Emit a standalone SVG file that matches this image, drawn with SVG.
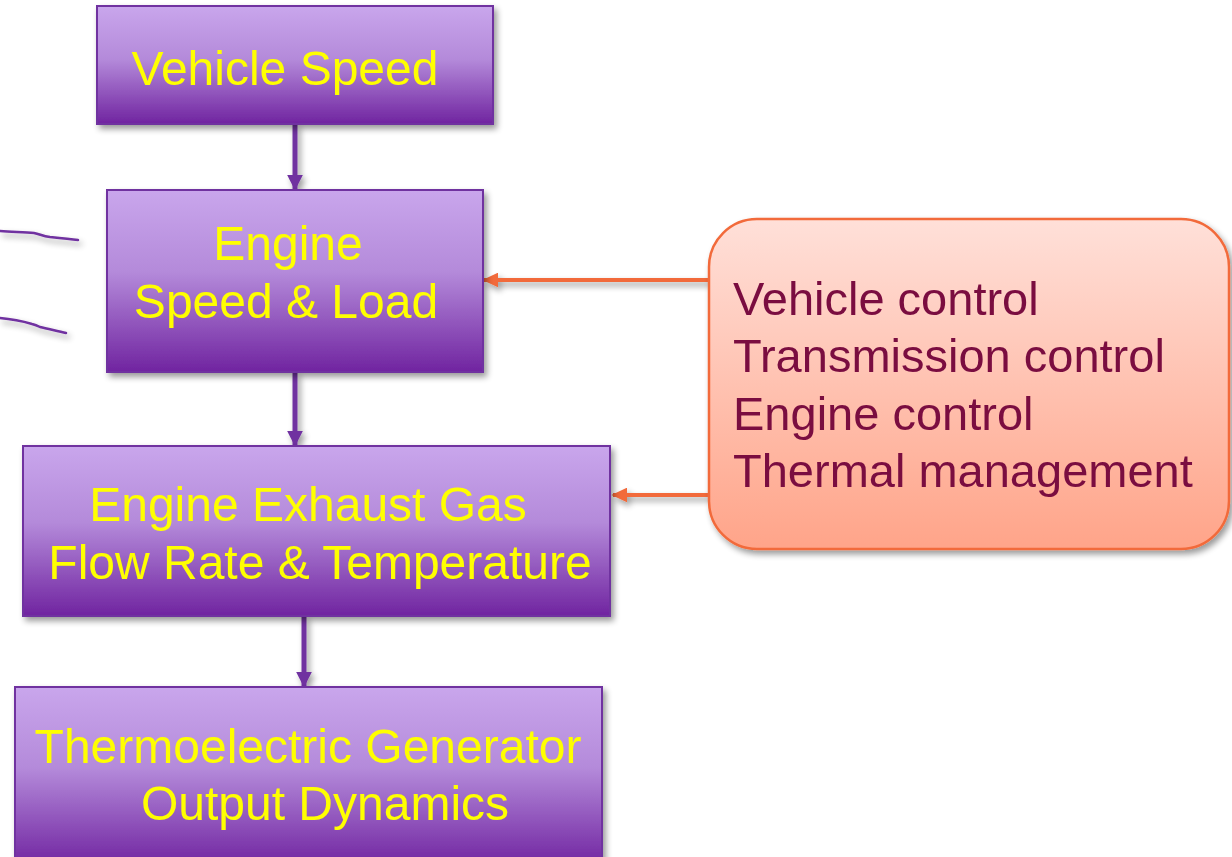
<svg xmlns="http://www.w3.org/2000/svg" width="1232" height="857" viewBox="0 0 1232 857">
  <defs>
    <linearGradient id="purpleFill" x1="0" y1="0" x2="0" y2="1">
      <stop offset="0" stop-color="#C9A6EC"/>
      <stop offset="0.45" stop-color="#B48ADA"/>
      <stop offset="1" stop-color="#7024A0"/>
    </linearGradient>
    <linearGradient id="peachFill" x1="0" y1="0" x2="0" y2="1">
      <stop offset="0" stop-color="#FFE0D9"/>
      <stop offset="1" stop-color="#FFA489"/>
    </linearGradient>
    <filter id="shadow" x="-10%" y="-10%" width="125%" height="130%">
      <feGaussianBlur in="SourceAlpha" stdDeviation="3"/>
      <feOffset dx="3" dy="4" result="blur"/>
      <feComponentTransfer><feFuncA type="linear" slope="0.4"/></feComponentTransfer>
      <feMerge><feMergeNode/><feMergeNode in="SourceGraphic"/></feMerge>
    </filter>
    <marker id="purpleHead" viewBox="0 0 10 10" refX="9" refY="5" markerWidth="16" markerHeight="16" orient="auto" markerUnits="userSpaceOnUse">
      <path d="M0,0 L10,5 L0,10 Z" fill="#7030A0"/>
    </marker>
    <marker id="orangeHead" viewBox="0 0 10 10" refX="9" refY="5" markerWidth="16" markerHeight="15" orient="auto" markerUnits="userSpaceOnUse" preserveAspectRatio="none">
      <path d="M0,0 L10,5 L0,10 Z" fill="#F26A3A"/>
    </marker>
  </defs>
  <style>
    .box { fill: url(#purpleFill); stroke: #7030A0; stroke-width: 2; }
    .ctl { fill: url(#peachFill); stroke: #F26A3A; stroke-width: 2.5; }
    .lbl { font-family: "Liberation Sans", Arial, sans-serif; font-size: 48px; fill: #FFFF00; text-anchor: middle; }
    .ctltxt { font-family: "Liberation Sans", Arial, sans-serif; font-size: 47px; fill: #7A0C40; }
    .flow { stroke: #7030A0; stroke-width: 5; fill: none; marker-end: url(#purpleHead); }
    .feed { stroke: #F26A3A; stroke-width: 4; fill: none; marker-end: url(#orangeHead); }
    .ink { stroke: #7030A0; stroke-width: 2.5; fill: none; stroke-linecap: round; }
  </style>

  <rect width="1232" height="857" fill="#FFFFFF"/>

  <!-- freehand pen strokes at the left edge -->
  <g id="pen-strokes" filter="url(#shadow)">
    <path class="ink" d="M0,231 C15,232 25,232 34,233 C40,234 42,236 50,237 C60,238 70,239 78,240"/>
    <path class="ink" d="M0,318 C12,319 22,321 32,324 C36,325 38,326 40,327 C48,329 58,331 66,333"/>
  </g>

  <!-- connectors -->
  <g id="connectors" filter="url(#shadow)">
    <line class="flow" x1="295" y1="124" x2="295" y2="189"/>
    <line class="flow" x1="295" y1="372" x2="295" y2="445"/>
    <line class="flow" x1="304" y1="616" x2="304" y2="686"/>
    <line class="feed" x1="709" y1="280" x2="484" y2="280"/>
    <line class="feed" x1="709" y1="495" x2="613" y2="495"/>
  </g>

  <g id="vehicle-speed" filter="url(#shadow)">
    <rect class="box" x="97" y="6" width="396" height="118"/>
    <text class="lbl" x="285" y="85">Vehicle Speed</text>
  </g>

  <g id="engine-speed-load" filter="url(#shadow)">
    <rect class="box" x="107" y="190" width="376" height="182"/>
    <text class="lbl" x="288" y="260">Engine</text>
    <text class="lbl" x="286" y="318">Speed &amp; Load</text>
  </g>

  <g id="exhaust-gas" filter="url(#shadow)">
    <rect class="box" x="23" y="446" width="587" height="170"/>
    <text class="lbl" x="308" y="521">Engine Exhaust Gas</text>
    <text class="lbl" x="320" y="579">Flow Rate &amp; Temperature</text>
  </g>

  <g id="teg-output" filter="url(#shadow)">
    <rect class="box" x="15" y="687" width="587" height="180"/>
    <text class="lbl" x="308" y="763">Thermoelectric Generator</text>
    <text class="lbl" x="325" y="820">Output Dynamics</text>
  </g>

  <g id="controls" filter="url(#shadow)">
    <rect class="ctl" x="709" y="219" width="520" height="330" rx="48" ry="48"/>
    <text class="ctltxt" x="733" y="315">Vehicle control</text>
    <text class="ctltxt" x="733" y="372">Transmission control</text>
    <text class="ctltxt" x="733" y="430">Engine control</text>
    <text class="ctltxt" x="733" y="487">Thermal management</text>
  </g>
</svg>
